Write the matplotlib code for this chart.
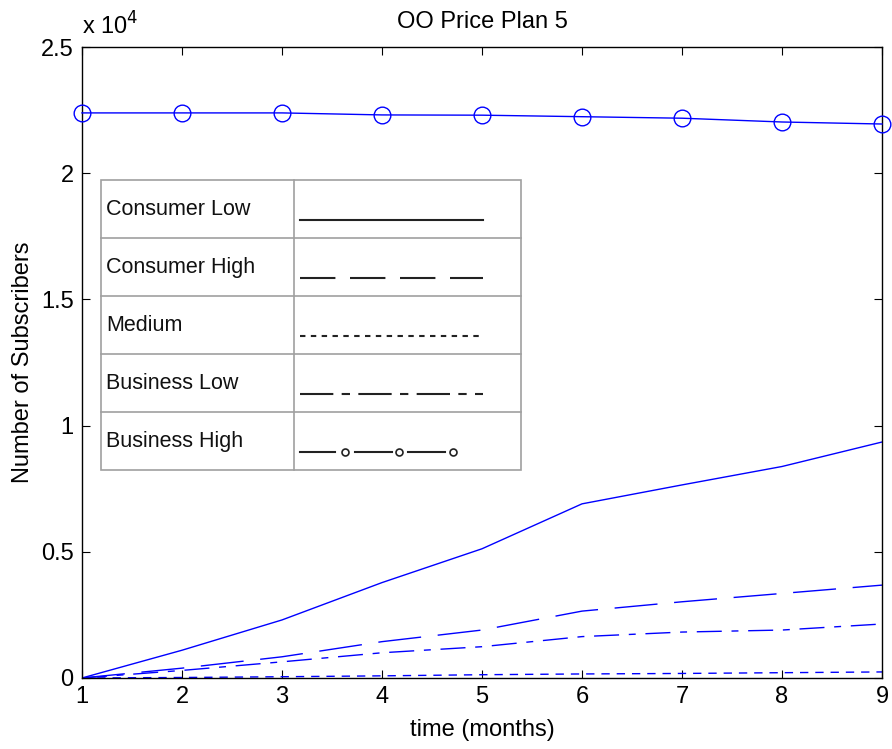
import matplotlib.pyplot as plt
from matplotlib.lines import Line2D
from matplotlib.patches import Rectangle

plt.rcParams['font.family'] = ['Liberation Sans', 'DejaVu Sans']

months = [1, 2, 3, 4, 5, 6, 7, 8, 9]
consumer_low = [0, 1100, 2300, 3780, 5120, 6900, 7650, 8380, 9350]
consumer_high = [0, 390, 840, 1440, 1900, 2650, 3020, 3350, 3680]
medium = [0, 20, 50, 85, 130, 160, 180, 210, 240]
business_low = [0, 300, 640, 1000, 1240, 1640, 1820, 1900, 2140]
business_high = [22390, 22390, 22390, 22310, 22300, 22240, 22180, 22030, 21950]

legend_names = ['Consumer Low', 'Consumer High', 'Medium', 'Business Low', 'Business High']
yticks = [0, 5000, 10000, 15000, 20000, 25000]

fig = plt.figure(figsize=(8.92, 7.49), dpi=100)
ax = fig.add_axes([0.0919, 0.0948, 0.8969, 0.8424])

blue = '#0000ff'
lw = 1.0
ax.plot(months, consumer_low, color=blue, lw=lw, linestyle='-')
ax.plot(months, consumer_high, color=blue, lw=lw, linestyle=(0, (31, 12)))
ax.plot(months, medium, color=blue, lw=lw, linestyle=(0, (6, 5)))
ax.plot(months, business_low, color=blue, lw=lw, linestyle=(0, (18, 7, 5, 7)))
ax.plot(months, business_high, color=blue, lw=lw, linestyle='-', marker='o',
        markersize=12, markerfacecolor='none', markeredgecolor=blue,
        markeredgewidth=1.0, clip_on=False, zorder=5)

ax.set_xlim(1, 9)
ax.set_ylim(0, 25000)
ax.set_xticks(months)
ax.set_yticks(yticks)
ax.set_yticklabels(['0', '0.5', '1', '1.5', '2', '2.5'])
ax.tick_params(direction='in', top=True, right=True, length=6, width=0.8,
               labelsize=17, pad=6, colors='black')
for s in ax.spines.values():
    s.set_linewidth(1.0)

ax.text(0.0, 1.012, r'x 10$^{4}$', transform=ax.transAxes, fontsize=17,
        ha='left', va='bottom')
ax.set_title('OO Price Plan 5', fontsize=17, pad=14)
ax.set_xlabel('time (months)', fontsize=17, labelpad=8)
ax.set_ylabel('Number of Subscribers', fontsize=17, labelpad=5)

# table style key for the line styles
x0, x1, xm = 0.0238, 0.5488, 0.2650
ytop, ybot = 0.7900, 0.3304
rowh = (ytop - ybot) / len(legend_names)
grey = '#a0a0a0'
ax.add_patch(Rectangle((x0, ybot), x1 - x0, ytop - ybot, transform=ax.transAxes,
                       facecolor='white', edgecolor=grey, lw=1.2, zorder=6))
ax.add_line(Line2D([xm, xm], [ybot, ytop], transform=ax.transAxes, color=grey,
                   lw=1.2, zorder=7))
key_styles = [
    dict(linestyle='-'),
    dict(linestyle=(0, (17, 7))),
    dict(linestyle=(0, (2.6, 2.6))),
    dict(linestyle=(0, (16, 4, 4, 4))),
]
for i, name in enumerate(legend_names):
    yt = ytop - i * rowh
    if i > 0:
        ax.add_line(Line2D([x0, x1], [yt, yt], transform=ax.transAxes,
                           color=grey, lw=1.2, zorder=7))
    yc = yt - rowh / 2
    ax.text(x0 + 0.006, yc - 0.002, name, transform=ax.transAxes, fontsize=15.5,
            ha='left', va='center', color='#111111', zorder=8)
    ly = yt - rowh * 0.69
    if i < 4:
        ax.add_line(Line2D([0.2725, 0.501], [ly, ly], transform=ax.transAxes,
                           color='#222222', lw=1.5, zorder=8, **key_styles[i]))
    else:
        segs = [(0.2725, 0.316), (0.341, 0.3875), (0.4075, 0.454)]
        for a, b in segs:
            ax.add_line(Line2D([a, b], [ly, ly], transform=ax.transAxes,
                               color='#222222', lw=1.5, zorder=8))
        for cx in [0.329, 0.396, 0.464]:
            ax.add_line(Line2D([cx], [ly], transform=ax.transAxes, marker='o',
                               markersize=5, markerfacecolor='white',
                               markeredgecolor='#222222', markeredgewidth=1.2,
                               zorder=9))

fig.savefig('out.png', dpi=100)
